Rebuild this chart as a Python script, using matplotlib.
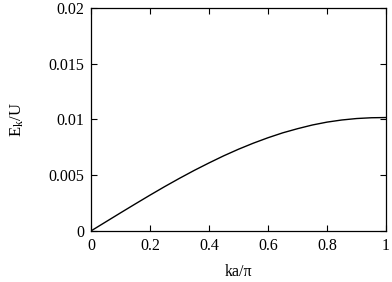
import matplotlib
matplotlib.use("Agg")
import matplotlib.pyplot as plt

# values
ka = [0.0, 0.05, 0.1, 0.15, 0.2, 0.25, 0.3, 0.35, 0.4, 0.45, 0.5,
      0.55, 0.6, 0.65, 0.7, 0.75, 0.8, 0.85, 0.9, 0.95, 1.0]
ek = [0.0, 0.00081, 0.00162, 0.00242, 0.00321, 0.00398, 0.00472, 0.00543,
      0.00610, 0.00674, 0.00733, 0.00787, 0.00836, 0.00880, 0.00917,
      0.00950, 0.00976, 0.00995, 0.01008, 0.01015, 0.01017]

xticks = [0, 0.2, 0.4, 0.6, 0.8, 1]
xlabels = ["0", "0.2", "0.4", "0.6", "0.8", "1"]
yticks = [0, 0.005, 0.01, 0.015, 0.02]
ylabels = ["0", "0.005", "0.01", "0.015", "0.02"]

plt.rcParams["font.family"] = ["Liberation Serif", "DejaVu Serif"]
plt.rcParams["mathtext.fontset"] = "custom"
plt.rcParams["mathtext.rm"] = "Liberation Serif"
plt.rcParams["mathtext.it"] = "Liberation Serif:italic"

fig = plt.figure(figsize=(3.92, 2.82), dpi=100)
ax = fig.add_axes([0.232, 0.181, 0.753, 0.791])
ax.plot(ka, ek, color="black", linewidth=1.0, solid_joinstyle="round")

ax.set_xlim(0, 1)
ax.set_ylim(0, 0.02)
ax.set_xticks(xticks)
ax.set_xticklabels(xlabels)
ax.set_yticks(yticks)
ax.set_yticklabels(ylabels)
ax.tick_params(direction="in", top=True, right=True, length=4, width=0.8,
               labelsize=11.5, pad=5)
for s in ax.spines.values():
    s.set_linewidth(0.9)

ax.set_xlabel("ka/\u03c0", fontsize=11.5, labelpad=7)
ax.set_ylabel(r"$\mathrm{E_k/U}$", fontsize=12, labelpad=16)

fig.savefig("out.png", dpi=100)
